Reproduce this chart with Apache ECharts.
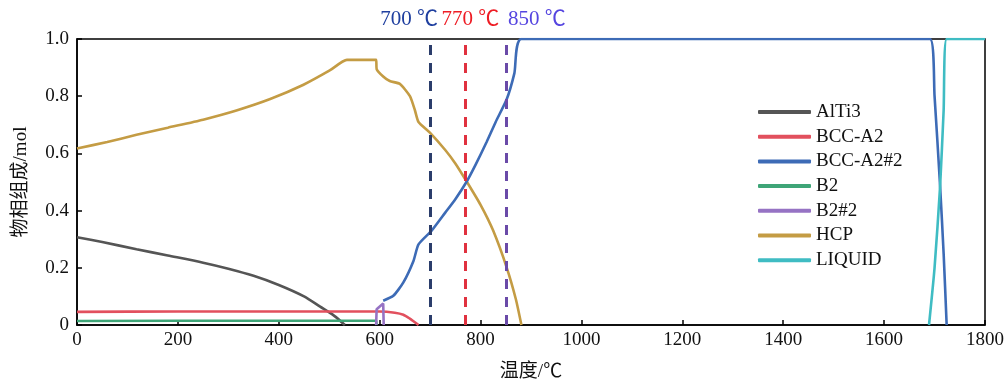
<!DOCTYPE html>
<html>
<head>
<meta charset="utf-8">
<script src="https://cdn.jsdelivr.net/npm/echarts@6/dist/echarts.min.js"></script>
<style>html,body{margin:0;padding:0;background:#fff;}#chart{width:1007px;height:387px;}</style>
</head>
<body>
<div id="chart"></div>
<script>
// ---- data ----
const seriesNames = ['AlTi3', 'BCC-A2', 'BCC-A2#2', 'B2', 'B2#2', 'HCP', 'LIQUID'];
const xTicks = [0, 200, 400, 600, 800, 1000, 1200, 1400, 1600, 1800];
const yTicks = [0, 0.2, 0.4, 0.6, 0.8, 1.0];

const dataAlTi3 = [[0,0.307],[50,0.29],[118,0.265],[180,0.243],[250,0.218],[300,0.197],[350,0.172],[400,0.14],[450,0.1],[482,0.064],[510,0.032],[531,0]];
const dataBCCA2 = [[0,0.046],[200,0.047],[400,0.047],[600,0.047],[630,0.043],[647,0.036],[660,0.022],[667,0.013],[677,0]];
const dataBCCA2_2 = [[607,0.085],[627,0.102],[647,0.149],[667,0.224],[677,0.282],[703,0.33],[730,0.393],[750,0.44],[772,0.5],[790,0.56],[812,0.64],[830,0.71],[852,0.79],[867,0.88],[881,1.0],[1691,1.0],[1700,0.8],[1711,0.485],[1718,0.25],[1724,0]];
const dataB2 = [[0,0.014],[200,0.015],[400,0.015],[593,0.015],[594,0]];
const dataB2_2 = [[593,0],[594,0.055],[607,0.075],[608,0]];
const dataHCP = [[0,0.617],[60,0.64],[118,0.665],[180,0.69],[250,0.718],[316,0.75],[383,0.79],[449,0.84],[501,0.89],[535,0.927],[593,0.927],[594,0.895],[607,0.869],[620,0.853],[640,0.843],[660,0.8],[670,0.75],[677,0.71],[700,0.672],[730,0.612],[750,0.565],[772,0.503],[800,0.42],[825,0.33],[852,0.2],[870,0.09],[881,0]];
const dataLIQUID = [[1689,0],[1700,0.2],[1711,0.485],[1718,0.75],[1724,1.0],[1800,1.0]];

const markTemps = [700, 770, 850];
const markLabels = ['700 ℃', '770 ℃', '850 ℃'];

// ---- styles ----
const colors = ['#555555', '#e2505e', '#3d6bb6', '#3ea577', '#9673c4', '#c49c44', '#3fbcc3'];
const smoothing = [0.25, 0.2, 0.2, 0, 0, 0.2, 0.2];
const markLineColors = ['#2b3d6b', '#e0313f', '#6a4aa8'];
const markLabelColors = ['#1f3f9f', '#ee1c24', '#5545e0'];
const markLabelOffsets = [-21, 5, 31];
const serif = "'Liberation Serif','Times New Roman','Noto Sans CJK SC',serif";

const allData = [dataAlTi3, dataBCCA2, dataBCCA2_2, dataB2, dataB2_2, dataHCP, dataLIQUID];

const series = seriesNames.map((name, i) => ({
  name: name,
  type: 'line',
  data: allData[i],
  showSymbol: false,
  symbol: 'none',
  smooth: smoothing[i],
  lineStyle: { color: colors[i], width: 2.6 },
  itemStyle: { color: colors[i] },
  z: i === 2 || i === 6 ? 4 : 3,
  animation: false
}));

series.push({
  name: 'marks',
  type: 'line',
  data: [],
  markLine: {
    silent: true,
    symbol: 'none',
    animation: false,
    data: markTemps.map((t, i) => ([
      { coord: [t, 0],
        lineStyle: { color: markLineColors[i], type: [10, 8], width: 3 },
        label: { show: true, position: 'end', formatter: markLabels[i], color: markLabelColors[i],
                 fontFamily: serif, fontSize: 21, distance: 9, offset: [markLabelOffsets[i], 0] } },
      { coord: [t, 1] }
    ]))
  }
});

const chart = echarts.init(document.getElementById('chart'), null, { renderer: 'canvas' });
chart.setOption({
  backgroundColor: '#fff',
  animation: false,
  grid: { left: 77, right: 22, top: 39, bottom: 61, show: true, borderColor: '#000', borderWidth: 1.5, backgroundColor: 'transparent' },
  legend: {
    data: seriesNames,
    orient: 'vertical',
    left: 753,
    top: 97,
    icon: 'roundRect',
    itemWidth: 53,
    itemHeight: 4,
    itemGap: 4.7,
    textStyle: { fontFamily: serif, fontSize: 19, color: '#111', lineHeight: 20, padding: [0, 0, 0, 0] }
  },
  xAxis: {
    type: 'value',
    min: 0, max: 1800, interval: 200,
    name: '温度/℃',
    nameLocation: 'middle',
    nameGap: 38,
    nameTextStyle: { fontFamily: serif, fontSize: 19, color: '#111' },
    axisLine: { show: true, lineStyle: { color: '#000', width: 1.5 } },
    axisTick: { show: true, inside: true, length: 5, lineStyle: { color: '#000', width: 1.5 } },
    axisLabel: { fontFamily: serif, fontSize: 19, color: '#111', margin: 6,
                 formatter: v => xTicks.includes(v) ? String(v) : '' },
    splitLine: { show: false }
  },
  yAxis: {
    type: 'value',
    min: 0, max: 1, interval: 0.2,
    name: '物相组成/mol',
    nameLocation: 'middle',
    nameGap: 46,
    nameTextStyle: { fontFamily: serif, fontSize: 19, color: '#111' },
    axisLine: { show: true, lineStyle: { color: '#000', width: 1.5 } },
    axisTick: { show: true, inside: true, length: 5, lineStyle: { color: '#000', width: 1.5 } },
    axisLabel: { fontFamily: serif, fontSize: 19, color: '#111', margin: 8,
                 formatter: v => { const t = yTicks.find(y => Math.abs(y - v) < 1e-6); return t === undefined ? '' : (t === 0 ? '0' : t.toFixed(1)); } },
    splitLine: { show: false }
  },
  series: series
});
</script>
</body>
</html>
